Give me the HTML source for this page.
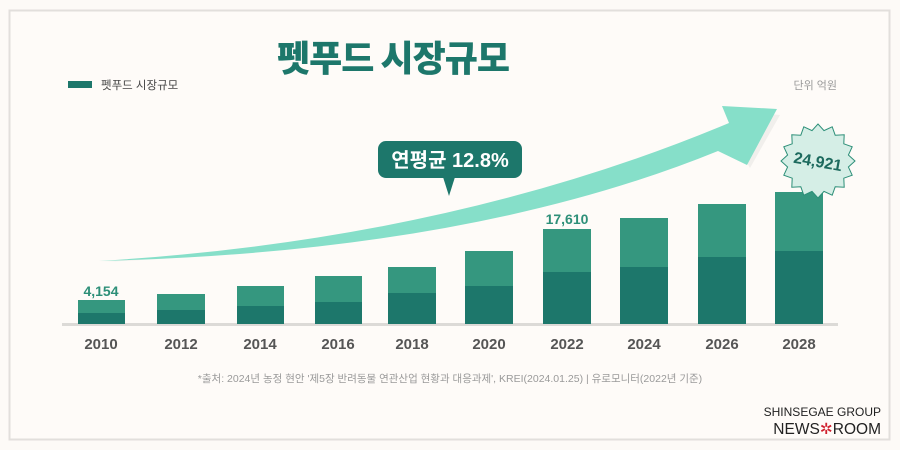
<!DOCTYPE html>
<html><head><meta charset="utf-8"><style>
html,body{margin:0;padding:0;background:#fdfaf7;}
svg{display:block;}
text{font-family:"Liberation Sans","Noto Sans CJK KR",sans-serif;}
</style></head><body>
<svg width="900" height="450" viewBox="0 0 900 450" xmlns="http://www.w3.org/2000/svg">
<rect x="0" y="0" width="900" height="450" fill="#fdfaf7"/>
<rect x="9.5" y="10.5" width="880" height="429" fill="#fefbf8" stroke="#e2dfdc" stroke-width="2"/>
<text x="393" y="71" text-anchor="middle" font-size="36" font-weight="900" letter-spacing="-1" fill="#1d776b" style="font-family:'Noto Sans CJK KR',sans-serif">펫푸드 시장규모</text>
<rect x="68" y="81" width="24" height="7" fill="#1d776b"/>
<text x="101" y="89" font-size="11.5" fill="#444">펫푸드 시장규모</text>
<text x="837" y="89" text-anchor="end" font-size="11" fill="#999">단위 억원</text>
<!-- arrow shadow -->
<path d="M99,262 Q470,248 731,128 L727,128 L750,168 L780,115 L725,110 L732,126 Q450,242 99,262Z" fill="#f1efec"/>
<!-- arrow -->
<path d="M99,261 Q450,240 729,123 L722,106 L777,109 L747,165 L718,151 Q470,252 99,261Z" fill="#86dfc9"/>
<!-- bubble -->
<rect x="378" y="141" width="144" height="37" rx="8" fill="#1d776b"/>
<polygon points="443,177 455,177 449,196" fill="#1d776b"/>
<text x="450" y="167" text-anchor="middle" font-size="20" font-weight="bold" fill="#fff">연평균 12.8%</text>
<!-- baseline -->
<rect x="62" y="323" width="776" height="3" fill="#dcdad7"/>
<g fill="#35977f">
<rect x="78" y="300" width="47" height="24"/><rect x="157" y="294" width="48" height="30"/><rect x="237" y="286" width="47" height="38"/><rect x="315" y="276" width="47" height="48"/><rect x="388" y="267" width="48" height="57"/><rect x="465" y="251" width="48" height="73"/><rect x="543" y="229" width="48" height="95"/><rect x="620" y="218" width="48" height="106"/><rect x="698" y="204" width="48" height="120"/><rect x="775" y="192" width="48" height="132"/>
</g>
<g fill="#1d776b">
<rect x="78" y="313" width="47" height="11"/><rect x="157" y="310" width="48" height="14"/><rect x="237" y="306" width="47" height="18"/><rect x="315" y="302" width="47" height="22"/><rect x="388" y="293" width="48" height="31"/><rect x="465" y="286" width="48" height="38"/><rect x="543" y="272" width="48" height="52"/><rect x="620" y="267" width="48" height="57"/><rect x="698" y="257" width="48" height="67"/><rect x="775" y="251" width="48" height="73"/>
</g>
<text x="101" y="296" text-anchor="middle" font-size="14" font-weight="bold" fill="#2d8f78">4,154</text>
<text x="567" y="224" text-anchor="middle" font-size="14" font-weight="bold" fill="#2d8f78">17,610</text>
<g font-size="15" font-weight="bold" fill="#555" text-anchor="middle">
<text x="101" y="349">2010</text><text x="181" y="349">2012</text><text x="260" y="349">2014</text><text x="338" y="349">2016</text><text x="412" y="349">2018</text><text x="489" y="349">2020</text><text x="567" y="349">2022</text><text x="644" y="349">2024</text><text x="722" y="349">2026</text><text x="799" y="349">2028</text>
</g>
<!-- starburst -->
<g transform="translate(818,161)">
<polygon fill="#d5eee6" stroke="#2d8f78" stroke-width="1" points="37,0 30.4,6 34.2,14.2 25.8,17.2 26.2,26.2 17.2,25.8 14.2,34.2 6,30.4 0,37 -6,30.4 -14.2,34.2 -17.2,25.8 -26.2,26.2 -25.8,17.2 -34.2,14.2 -30.4,6 -37,0 -30.4,-6 -34.2,-14.2 -25.8,-17.2 -26.2,-26.2 -17.2,-25.8 -14.2,-34.2 -6,-30.4 0,-37 6,-30.4 14.2,-34.2 17.2,-25.8 26.2,-26.2 25.8,-17.2 34.2,-14.2 30.4,-6"/>
<text x="0" y="6" text-anchor="middle" font-size="16" font-weight="bold" fill="#1d6a5e" transform="rotate(10)">24,921</text>
</g>
<text x="450" y="382" text-anchor="middle" font-size="10.5" fill="#9a9a9a">*출처: 2024년 농정 현안 '제5장 반려동물 연관산업 현황과 대응과제', KREI(2024.01.25)  |  유로모니터(2022년 기준)</text>
<text x="881" y="416" text-anchor="end" font-size="12" fill="#222">SHINSEGAE GROUP</text>
<text x="881" y="434" text-anchor="end" font-size="15.5" font-weight="500" fill="#222">NEWS<tspan fill="#d0212f">✲</tspan>ROOM</text>
</svg>
</body></html>
